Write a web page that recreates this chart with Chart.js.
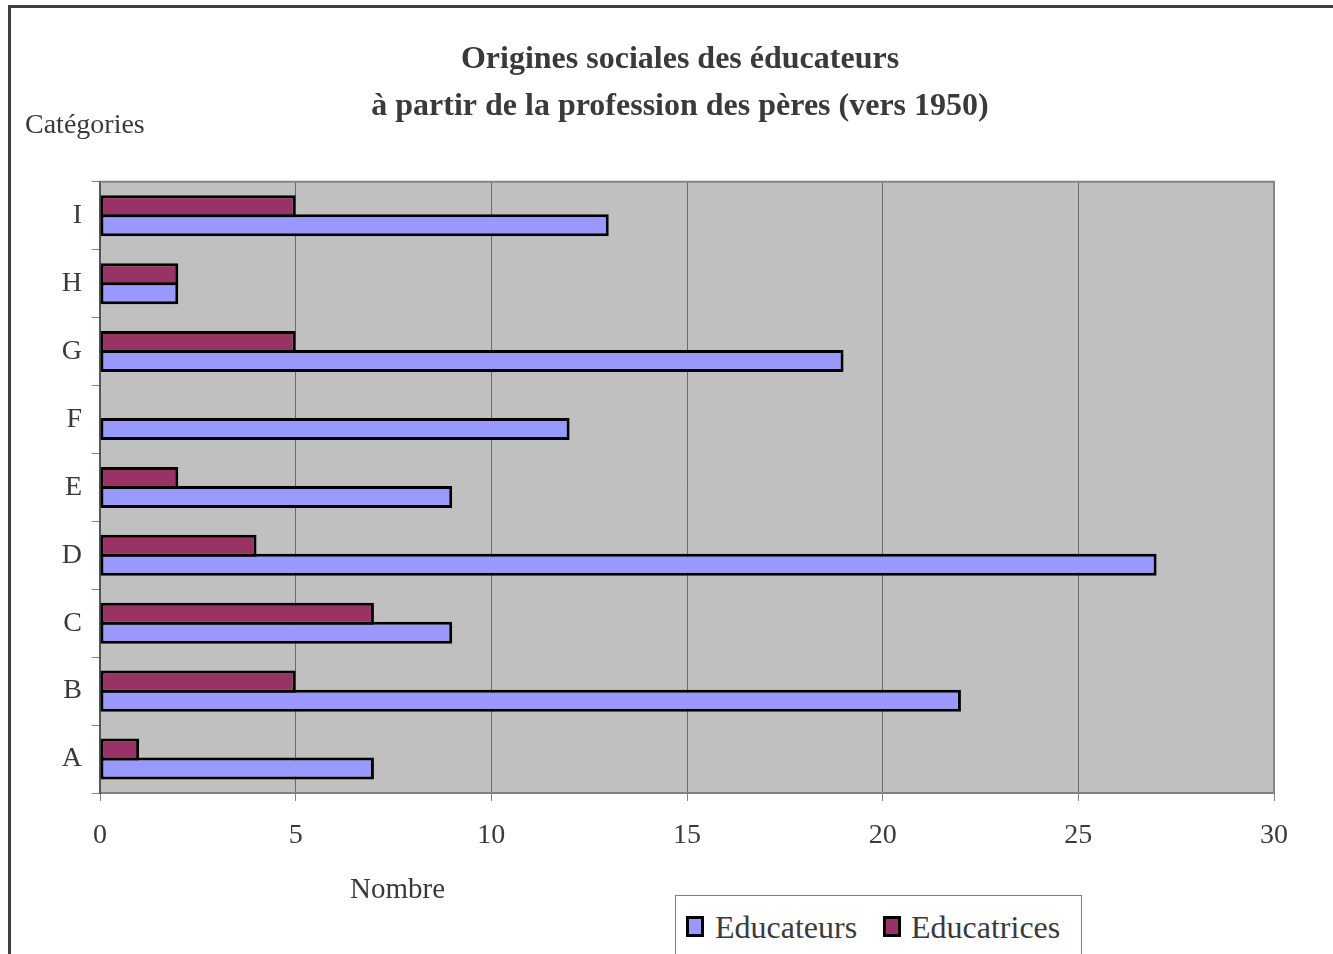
<!DOCTYPE html>
<html>
<head>
<meta charset="utf-8">
<script src="https://cdn.jsdelivr.net/npm/chart.js@4.4.1/dist/chart.umd.min.js"></script>
<style>
  html, body { margin: 0; padding: 0; background: #ffffff; overflow: hidden; }
  #wrap { position: relative; width: 1333px; height: 954px; }
  #frame { position: absolute; left: 8px; top: 5px; width: 1400px; height: 1000px; border: 3px solid #404040; box-sizing: border-box; }
  #cv { position: absolute; left: 0; top: 0; }
  .lbl { position: absolute; font-family: "Liberation Serif", "Times New Roman", serif; color: #3a3a3a; line-height: 1; white-space: nowrap; }
  #legend { position: absolute; left: 675px; top: 895px; width: 407px; height: 100px; border: 1px solid #808080; box-sizing: border-box; background: #fff; }
  .sw { position: absolute; width: 18px; height: 21px; border: 3px solid #000; box-sizing: border-box; }
</style>
</head>
<body>
<div id="wrap">
  <div id="frame"></div>
  <canvas id="cv" width="1333" height="954"></canvas>
  <div class="lbl" style="left:25px; top:110px; font-size:28px;">Catégories</div>
  <div class="lbl" style="left:350px; top:874px; font-size:29px;">Nombre</div>
  <div id="legend"></div>
  <div class="sw" style="left:686px; top:916px; background:#9999FF;"></div>
  <div class="lbl" style="left:715px; top:911px; font-size:32px;">Educateurs</div>
  <div class="sw" style="left:883px; top:916px; background:#993366;"></div>
  <div class="lbl" style="left:911px; top:911px; font-size:32px;">Educatrices</div>
</div>
<script>
const categories = ['A', 'B', 'C', 'D', 'E', 'F', 'G', 'H', 'I'];
const educateurs = [7, 22, 9, 27, 9, 12, 19, 2, 13];
const educatrices = [1, 5, 7, 4, 2, 0, 5, 2, 5];
const xTicks = [0, 5, 10, 15, 20, 25, 30];
const titleLines = ['Origines sociales des éducateurs', 'à partir de la profession des pères (vers 1950)'];

const plotBg = {
  id: 'plotBg',
  beforeDraw(chart) {
    const { ctx, chartArea: a } = chart;
    ctx.save();
    ctx.fillStyle = '#C0C0C0';
    ctx.fillRect(a.left, a.top, a.right - a.left, a.bottom - a.top);
    ctx.restore();
  },
  afterDatasetsDraw(chart) {
    const { ctx, chartArea: a } = chart;
    ctx.save();
    ctx.strokeStyle = '#858585';
    ctx.lineWidth = 2;
    ctx.beginPath();
    ctx.moveTo(a.left, a.top);
    ctx.lineTo(a.right, a.top);
    ctx.lineTo(a.right, a.bottom);
    ctx.stroke();
    ctx.restore();
  }
};

Chart.defaults.font.family = '"Liberation Serif", "Times New Roman", serif';

new Chart(document.getElementById('cv'), {
  type: 'bar',
  data: {
    labels: categories,
    datasets: [
      { label: 'Educatrices', data: educatrices, backgroundColor: '#993366', borderColor: '#000000', borderWidth: 3, borderSkipped: false },
      { label: 'Educateurs', data: educateurs, backgroundColor: '#9999FF', borderColor: '#000000', borderWidth: 3, borderSkipped: false }
    ]
  },
  options: {
    indexAxis: 'y',
    responsive: false,
    animation: false,
    categoryPercentage: 0.56,
    barPercentage: 1.158,
    layout: { padding: { left: 27, right: 0, top: 0, bottom: 0 } },
    plugins: {
      legend: { display: false },
      tooltip: { enabled: false },
      title: {
        display: true,
        text: titleLines,
        color: '#3a3a3a',
        font: { size: 32, weight: 'bold', lineHeight: 1.45 },
        padding: { top: 37, bottom: 52 }
      }
    },
    scales: {
      x: {
        type: 'linear',
        min: 0,
        max: 30,
        afterBuildTicks(scale) { scale.ticks = xTicks.map(v => ({ value: v })); },
        afterFit(scale) { scale.height = 161; },
        ticks: { color: '#3a3a3a', font: { size: 28 }, padding: 18, maxRotation: 0 },
        grid: { color: '#6a6a6a', lineWidth: 1, tickLength: 8, tickColor: '#808080', drawTicks: true },
        border: { display: true, color: '#808080', width: 2 }
      },
      y: {
        reverse: true,
        afterFit(scale) { scale.width = 73; },
        ticks: { color: '#3a3a3a', font: { size: 28 }, padding: 10 },
        grid: { drawOnChartArea: false, drawTicks: true, tickLength: 8, tickColor: '#808080', offset: true },
        border: { display: true, color: '#555555', width: 2 }
      },
      ySpacer: {
        type: 'linear',
        axis: 'y',
        position: 'right',
        min: 0,
        max: 1,
        afterFit(scale) { scale.width = 59; },
        ticks: { display: false },
        grid: { display: false, drawTicks: false },
        border: { display: false }
      }
    }
  },
  plugins: [plotBg]
});
</script>
</body>
</html>
